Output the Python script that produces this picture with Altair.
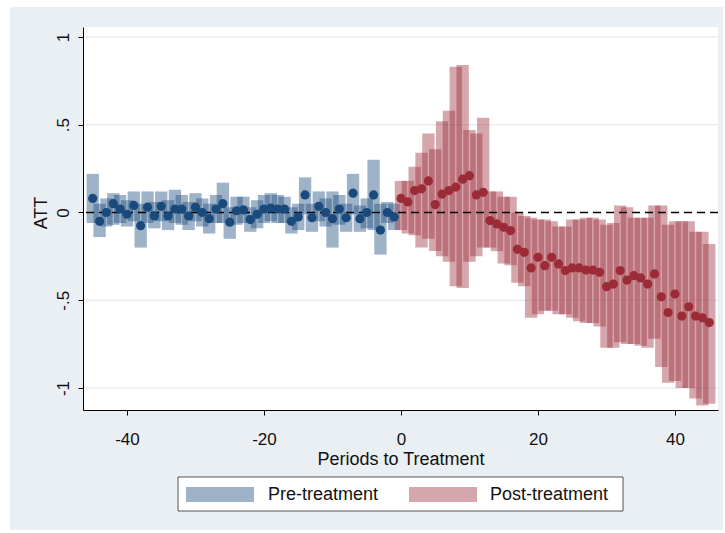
import altair as alt
import pandas as pd

# ---------------- data ----------------
pre_t = list(range(-45, 0))
pre_att = [0.08, -0.05, 0.00, 0.05, 0.02, -0.01, 0.04, -0.075, 0.03, -0.02,
           0.035, -0.02, 0.02, 0.02, -0.02, 0.03, 0.00, -0.035, 0.02, 0.05,
           -0.055, 0.01, 0.015, -0.04, -0.01, 0.02, 0.025, 0.02, 0.02, -0.05,
           -0.025, 0.10, -0.03, 0.035, 0.00, -0.035, 0.02, -0.03, 0.11, -0.035,
           0.00, 0.10, -0.10, 0.00, -0.025]
pre_lo = [-0.06, -0.14, -0.08, -0.07, -0.06, -0.08, -0.05, -0.20, -0.06, -0.09,
          -0.05, -0.10, -0.06, -0.07, -0.10, -0.05, -0.08, -0.12, -0.06, -0.06,
          -0.15, -0.07, -0.06, -0.11, -0.09, -0.06, -0.05, -0.06, -0.06, -0.12,
          -0.10, -0.01, -0.11, -0.05, -0.08, -0.20, -0.07, -0.11, -0.01, -0.11,
          -0.09, -0.10, -0.24, -0.06, -0.10]
pre_hi = [0.22, 0.05, 0.08, 0.11, 0.10, 0.07, 0.12, 0.05, 0.12, 0.06,
          0.12, 0.07, 0.13, 0.10, 0.06, 0.11, 0.08, 0.05, 0.10, 0.17,
          0.03, 0.09, 0.09, 0.03, 0.07, 0.10, 0.11, 0.10, 0.09, 0.03,
          0.05, 0.20, 0.05, 0.12, 0.08, 0.12, 0.10, 0.05, 0.22, 0.04,
          0.08, 0.30, 0.05, 0.06, 0.05]

post_t = list(range(0, 46))
post_att = [0.08, 0.06, 0.125, 0.135, 0.18, 0.045, 0.105, 0.125, 0.145, 0.19,
            0.21, 0.10, 0.115, -0.046, -0.065, -0.084, -0.103, -0.21, -0.227, -0.316,
            -0.255, -0.303, -0.255, -0.293, -0.331, -0.316, -0.316, -0.328, -0.328, -0.341,
            -0.423, -0.408, -0.331, -0.385, -0.36, -0.373, -0.408, -0.35, -0.48, -0.57,
            -0.465, -0.59, -0.537, -0.59, -0.60, -0.627]
post_lo = [-0.10, -0.12, -0.13, -0.20, -0.15, -0.22, -0.25, -0.28, -0.42, -0.43,
           -0.28, -0.25, -0.20, -0.20, -0.22, -0.29, -0.30, -0.40, -0.42, -0.60,
           -0.58, -0.56, -0.56, -0.58, -0.58, -0.60, -0.62, -0.63, -0.63, -0.65,
           -0.77, -0.77, -0.74, -0.75, -0.75, -0.76, -0.77, -0.72, -0.88, -0.97,
           -0.96, -1.00, -1.00, -1.06, -1.10, -1.09]
post_hi = [0.18, 0.18, 0.26, 0.34, 0.45, 0.36, 0.52, 0.58, 0.83, 0.84,
           0.47, 0.45, 0.54, 0.12, 0.12, 0.09, 0.09, 0.00, -0.02, -0.03,
           -0.04, -0.04, -0.05, -0.08, -0.08, -0.04, -0.04, -0.03, -0.03, -0.04,
           -0.07, -0.06, 0.04, 0.03, -0.03, -0.03, -0.03, 0.04, 0.04, -0.07,
           -0.05, -0.05, -0.05, -0.11, -0.11, -0.18]

periods = ["Pre-treatment", "Post-treatment"]
x_ticks = [-40, -20, 0, 20, 40]
y_ticks = [-1, -0.5, 0, 0.5, 1]
grid_values = [-1, -0.5, 0.5, 1]
zero_line = [0]

# ---------------- styling ----------------
NAVY = "#1a4a7c"
MAROON = "#9c2b38"
BAND_OPACITY = 0.42
FRAME = "#e9eff3"
FONT = "Liberation Sans"
W, H = 635, 383

pre = pd.DataFrame({"t": pre_t, "att": pre_att, "lo": pre_lo, "hi": pre_hi,
                    "period": periods[0]})
post = pd.DataFrame({"t": post_t, "att": post_att, "lo": post_lo, "hi": post_hi,
                     "period": periods[1]})
df = pd.concat([pre, post], ignore_index=True)

xscale = alt.Scale(domain=[-46.42, 46.28], nice=False, zero=False)
yscale = alt.Scale(domain=[-1.1254, 1.057], nice=False, zero=False)
cscale = alt.Scale(domain=periods, range=[NAVY, MAROON])

xaxis = alt.Axis(values=x_ticks, title="Periods to Treatment", grid=False,
                 labelExpr="'' + datum.value", tickSize=5, labelPadding=16,
                 titleY=40, titleBaseline="top", zindex=1)
yaxis = alt.Axis(values=y_ticks, title="ATT", grid=False,
                 labelExpr="replace('' + datum.value, '0.', '.')",
                 labelAngle=270, labelAlign="center", labelBaseline="bottom",
                 tickSize=5, labelPadding=6,
                 titleAngle=270, titleX=-33, titleY=185.5,
                 titleAlign="center", titleBaseline="bottom", zindex=1)

one = pd.DataFrame({"k": [0]})
frame = alt.Chart(one).mark_rect(color=FRAME).encode(
    x=alt.value(-73), x2=alt.value(640), y=alt.value(-20), y2=alt.value(503))
plotbg = alt.Chart(one).mark_rect(color="white").encode(
    x=alt.value(0), x2=alt.value(W), y=alt.value(0), y2=alt.value(H))

grid = alt.Chart(pd.DataFrame({"att": grid_values})).mark_rule(
    color="#e3e3e3", strokeWidth=1).encode(
    y=alt.Y("att:Q", scale=yscale, axis=yaxis))

bands = alt.Chart(df).transform_calculate(
    x0="datum.t - 0.9", x1="datum.t + 0.9").mark_rect(
    opacity=BAND_OPACITY, strokeWidth=0).encode(
    x=alt.X("x0:Q", scale=xscale, axis=xaxis),
    x2="x1:Q",
    y=alt.Y("lo:Q", scale=yscale, axis=yaxis),
    y2="hi:Q",
    color=alt.Color("period:N", scale=cscale, legend=None))

zero = alt.Chart(pd.DataFrame({"att": zero_line})).mark_rule(
    color="black", strokeWidth=1.3, strokeDash=[8, 5]).encode(
    y=alt.Y("att:Q", scale=yscale, axis=yaxis))

pts_pre = alt.Chart(df).transform_filter(
    alt.datum.period == periods[0]).mark_circle(
    size=85, opacity=1, color=NAVY).encode(
    x=alt.X("t:Q", scale=xscale, axis=xaxis),
    y=alt.Y("att:Q", scale=yscale, axis=yaxis))
pts_post = alt.Chart(df).transform_filter(
    alt.datum.period == periods[1]).mark_circle(
    size=85, opacity=1, color=MAROON).encode(
    x=alt.X("t:Q", scale=xscale, axis=xaxis),
    y=alt.Y("att:Q", scale=yscale, axis=yaxis))

# ---------------- legend box (below the plot, Stata style) ----------------
leg_box = alt.Chart(one).mark_rect(fill="white", stroke="#555555", strokeWidth=1).encode(
    x=alt.value(95), x2=alt.value(540), y=alt.value(450), y2=alt.value(484))

leg_items = []
swatch_x = [103, 326]
label_x = [185, 407]
for i, name in enumerate(periods):
    d = pd.DataFrame({"period": [name]})
    sw = alt.Chart(d).mark_rect(opacity=BAND_OPACITY, strokeWidth=0).encode(
        x=alt.value(swatch_x[i]), x2=alt.value(swatch_x[i] + 68),
        y=alt.value(460), y2=alt.value(475),
        color=alt.Color("period:N", scale=cscale, legend=None))
    tx = alt.Chart(d).mark_text(
        align="left", baseline="middle", font=FONT, fontSize=18, color="#111111").encode(
        x=alt.value(label_x[i]), y=alt.value(468), text="period:N")
    leg_items += [sw, tx]

chart = alt.layer(frame, plotbg, grid, bands, zero, pts_pre, pts_post,
                  leg_box, *leg_items).properties(
    width=W, height=H,
    autosize=alt.AutoSizeParams(type="none"),
    padding={"left": 83, "top": 27, "right": 7, "bottom": 123},
    background="white",
).configure_view(stroke="transparent").configure_axis(
    domainColor="black", tickColor="black", domainWidth=1, tickWidth=1,
    labelColor="#111111", labelFont=FONT, labelFontSize=17,
    titleColor="#111111", titleFont=FONT, titleFontSize=18, titleFontWeight="normal",
)

chart.save("out.html", embed_options={"renderer": "svg", "actions": False})
